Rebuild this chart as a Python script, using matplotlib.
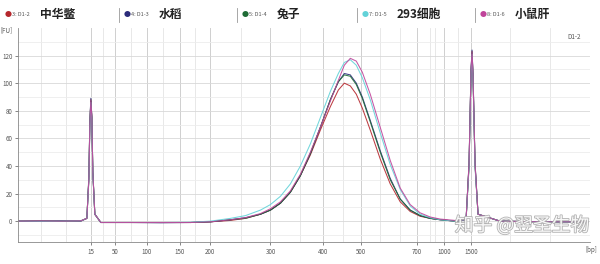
import matplotlib
matplotlib.use("Agg")
import matplotlib.pyplot as plt
import matplotlib.patheffects as pe

plt.rcParams['font.family'] = ['Noto Sans CJK SC', 'DejaVu Sans']

# migration position (arbitrary units along the run) and fluorescence [FU] per sample
pos = [17, 40, 60, 80, 86, 88, 89, 90, 91, 92, 94, 100, 130, 160, 190, 210, 230, 245,
       260, 270, 280, 290, 300, 310, 320, 330, 338, 344, 350, 356, 362, 370, 380, 390,
       400, 410, 420, 430, 440, 455, 466, 469, 471, 472, 473, 475, 478, 500, 540, 588]

red = [0, 0.3, 0, 0.2, 2, 30, 70, 87, 75, 35, 5, -1, -1, -1, -1, -0.5, 0.5, 2,
       5, 8, 13, 21, 33, 48, 66, 83, 95, 100, 98, 92, 82, 66, 45, 27,
       14, 7, 3.5, 2, 1, 0, 1, 40, 108, 122, 104, 40, 5, 0, -0.5, -0.5]
navy = [0, 0, 0.3, 0, 2, 32, 72, 89, 76, 36, 5, -1, -1, -1.2, -1, -0.5, 1, 2.5,
        5, 8, 13, 21, 33, 49, 68, 88, 101, 107, 106, 100, 90, 73, 51, 31,
        16, 8, 4, 2, 1, 0, 1, 42, 110, 124, 106, 42, 5, 0, -0.5, -0.5]
green = [0, 0.2, 0, 0.2, 2, 31, 71, 88, 75, 35, 5, -1, -1, -1, -1, -0.5, 1, 2,
         5, 8, 13, 21, 33, 49, 68, 88, 101, 106, 105, 99, 89, 72, 50, 30,
         16, 8, 4, 2, 1, 0, 1, 41, 109, 123, 105, 41, 5, 0, -0.5, -0.5]
cyan = [0, 0, 0, 0.2, 2, 29, 68, 86, 73, 34, 5, -1, -1, -1, -0.8, 0, 2, 4,
        8, 12, 18, 27, 40, 56, 75, 94, 107, 115, 117, 113, 104, 88, 64, 41,
        23, 11, 5, 2.5, 1, 0, 1, 39, 107, 121, 103, 39, 5, 0, -0.5, -0.5]
magenta = [0, 0.2, 0, 0.2, 2, 30, 70, 88, 75, 35, 5, -1, -1, -1, -1, -0.5, 1, 2.5,
           5.5, 9, 14, 22, 34, 50, 68, 87, 102, 113, 118, 116, 108, 92, 68, 44,
           24, 12, 6, 3, 1.5, 0.5, 1, 42, 110, 123, 105, 42, 5, 0, -0.5, -0.5]

series = [
    ("3: D1-2", "中华鳖", red, "#b5272d"),
    ("4: D1-3", "水稻", navy, "#2b2b7a"),
    ("5: D1-4", "兔子", green, "#1e6b35"),
    ("7: D1-5", "293细胞", cyan, "#62d2d8"),
    ("8: D1-6", "小鼠肝", magenta, "#c0449a"),
]

bp_labels = ["15", "50", "100", "150", "200", "300", "400", "500", "700", "1000", "1500"]
bp_pos = [90, 114, 146, 179, 209, 270, 323, 361, 417, 444, 471]

fig = plt.figure(figsize=(6, 2.64), dpi=100)
ax = fig.add_axes([0.03, 0.083, 0.953, 0.811])

for name, cn, y, c in series:
    ax.plot(pos, y, color=c, lw=0.75, alpha=0.9)

ax.set_xlim(17, 590)
ax.set_ylim(-15.2, 140)

# grid
for gx in [40, 65, 102, 130, 162, 194, 240, 300, 343, 380, 400, 430, 435, 458, 510, 550]:
    ax.axvline(gx, color="#e4e4e4", lw=0.6, zorder=0)
for gx in bp_pos:
    ax.axvline(gx, color="#cfcfcf", lw=0.7, zorder=0)
for gy in range(-10, 140, 10):
    ax.axhline(gy, color="#d8d8d8" if gy % 20 == 0 else "#ececec", lw=0.6, zorder=0)

ax.set_xticks(bp_pos)
ax.set_xticklabels(bp_labels)
ax.set_yticks(range(0, 121, 20))
ax.tick_params(axis="both", labelsize=4.5, colors="#555555", length=2.5, width=0.5, pad=1.5)
for s in ["top", "right"]:
    ax.spines[s].set_visible(False)
ax.spines["left"].set_color("#888888")
ax.spines["bottom"].set_color("#888888")
ax.spines["left"].set_linewidth(0.6)
ax.spines["bottom"].set_linewidth(0.6)

fig.text(0.0, 0.878, "[FU]", fontsize=4.5, color="#555555")
fig.text(0.976, 0.045, "[bp]", fontsize=4.5, color="#555555")
ax.text(0.985, 0.975, "D1-2", transform=ax.transAxes, fontsize=4.5, color="#555555",
        ha="right", va="top")

# legend row on top
x0 = [5, 124, 242, 362, 480]
for i, (name, cn, y, c) in enumerate(series):
    xp = x0[i] / 600
    if i > 0:
        fig.lines.append(plt.Line2D([xp - 0.008, xp - 0.008], [0.917, 0.97],
                                    transform=fig.transFigure, color="#999999", lw=0.6))
    fig.text(xp, 0.945, "\u25cf", fontsize=5, color=c, va="center")
    fig.text(xp + 0.012, 0.945, name, fontsize=4, color="#555555", va="center")
    fig.text(xp + 0.058, 0.945, cn, fontsize=8.5, fontweight="bold", color="#222222",
             va="center")

# watermark
fig.text(0.758, 0.125, "知乎 @翌圣生物", fontsize=13.5, color="white", alpha=0.9,
         path_effects=[pe.withStroke(linewidth=1.2, foreground="#aaaaaa")])

fig.savefig("out.png", dpi=100)
